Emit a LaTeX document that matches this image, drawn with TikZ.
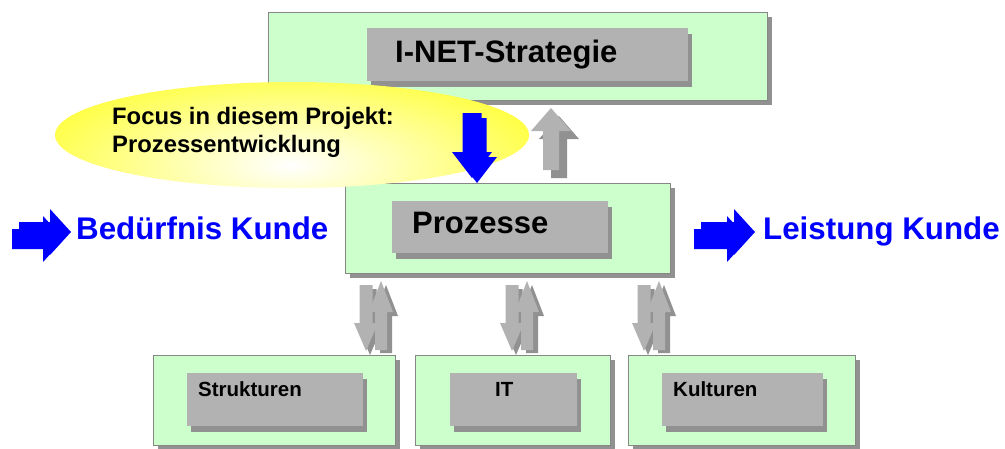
\documentclass[tikz,border=0pt]{standalone}
\usepackage{fontspec}
\setmainfont{Liberation Sans}
\usetikzlibrary{shadows}
\definecolor{boxgreen}{RGB}{204,255,204}
\definecolor{boxgray}{RGB}{178,178,178}
\definecolor{shgray}{RGB}{145,145,145}
\definecolor{edgegray}{RGB}{135,135,135}
\definecolor{kblue}{RGB}{0,0,255}
\newcommand{\blkV}[7]{\fill[#7] ({#1-#5},{#2}) -- ({#1+#5},{#2}) -- ({#1+#5},{#3}) -- ({#1+#6},{#3}) -- ({#1},{#4}) -- ({#1-#6},{#3}) -- ({#1-#5},{#3}) -- cycle;}
\newcommand{\blkH}[7]{\fill[#7] ({#2},{#1-#5}) -- ({#2},{#1+#5}) -- ({#3},{#1+#5}) -- ({#3},{#1+#6}) -- ({#4},{#1}) -- ({#3},{#1-#6}) -- ({#3},{#1-#5}) -- cycle;}
\tikzset{
  outerbox/.style={draw=edgegray, line width=1.3pt, fill=boxgreen, inner sep=0pt, anchor=north west,
    drop shadow={shadow xshift=4pt, shadow yshift=-4pt, fill=shgray, opacity=1}},
  innerbox/.style={fill=boxgray, inner sep=0pt, anchor=north west,
    drop shadow={shadow xshift=4pt, shadow yshift=-6pt, fill=shgray, opacity=1}},
  bigtxt/.style={anchor=base west, inner sep=0pt, font=\fontsize{31}{36}\selectfont\bfseries},
  smalltxt/.style={anchor=base west, inner sep=0pt, font=\fontsize{20.5}{24}\selectfont\bfseries},
  focustxt/.style={anchor=base west, inner sep=0pt, font=\fontsize{23.8}{28}\selectfont\bfseries},
  bluetxt/.style={anchor=base west, inner sep=0pt, text=kblue, font=\fontsize{31.3}{36}\selectfont\bfseries}
}
\begin{document}
\begin{tikzpicture}[x=1pt,y=-1pt]
\useasboundingbox (0,0) rectangle (1005,448);
% top box
\node[outerbox, minimum width=499pt, minimum height=88pt] (top) at (268,12) {};
\node[innerbox, minimum width=321pt, minimum height=53pt] (topin) at (367,28) {};
\node[bigtxt] (toptxt) at (395,62) {I-NET-Strategie};
% processes box
\node[outerbox, minimum width=325pt, minimum height=90pt] (proz) at (345,183) {};
\node[innerbox, minimum width=216pt, minimum height=52pt] (prozin) at (392,201) {};
\node[bigtxt] (proztxt) at (412,233) {Prozesse};
% bottom boxes
\node[outerbox, minimum width=242pt, minimum height=90pt] (b1) at (153,355) {};
\node[innerbox, minimum width=176pt, minimum height=53pt] (b1in) at (187,373) {};
\node[smalltxt] (b1txt) at (198,396) {Strukturen};
\node[outerbox, minimum width=195pt, minimum height=90pt] (b2) at (415,355) {};
\node[innerbox, minimum width=127pt, minimum height=53pt] (b2in) at (450,373) {};
\node[smalltxt] (b2txt) at (495,396) {IT};
\node[outerbox, minimum width=227pt, minimum height=90pt] (b3) at (628,355) {};
\node[innerbox, minimum width=161pt, minimum height=53pt] (b3in) at (662,373) {};
\node[smalltxt] (b3txt) at (673,396) {Kulturen};
% gray up arrow between Prozesse and strategy
\blkV{559}{178}{139}{116}{8}{20}{shgray}
\blkV{551}{170}{131}{108}{8}{20}{boxgray}
% double arrows between Prozesse and bottom boxes
\foreach \c in {366,512,644}{
  \blkV{\c+4}{289}{327}{355}{6.5}{12}{shgray}
  \blkV{\c}{285}{323}{351}{6.5}{12}{boxgray}
  \blkV{\c+20}{353}{316}{285}{6}{12}{shgray}
  \blkV{\c+15}{350}{312}{281}{6}{12}{boxgray}
}
% focus ellipse
\begin{scope}
\clip (292,135) ellipse [x radius=237, y radius=53];
\shade[inner color=white, outer color=yellow] (290,165) ellipse [x radius=360, y radius=130];
\end{scope}
\node[focustxt] (f1) at (112,124) {Focus in diesem Projekt:};
\node[focustxt] (f2) at (112,152) {Prozessentwicklung};
% blue down arrow
\blkV{477}{118}{157}{183}{9.5}{20}{kblue}
\blkV{472}{113}{152}{178}{9.5}{20}{kblue}
% blue side arrows
\blkH{232}{19}{50}{71}{10}{23}{kblue}
\blkH{239}{12}{43}{64}{10}{23}{kblue}
\blkH{232}{701}{734}{755}{10}{23}{kblue}
\blkH{239}{694}{727}{748}{10}{23}{kblue}
\node[bluetxt] (need) at (76,239) {Bedürfnis Kunde};
\node[bluetxt] (perf) at (763,239) {Leistung Kunde};
\end{tikzpicture}
\end{document}
